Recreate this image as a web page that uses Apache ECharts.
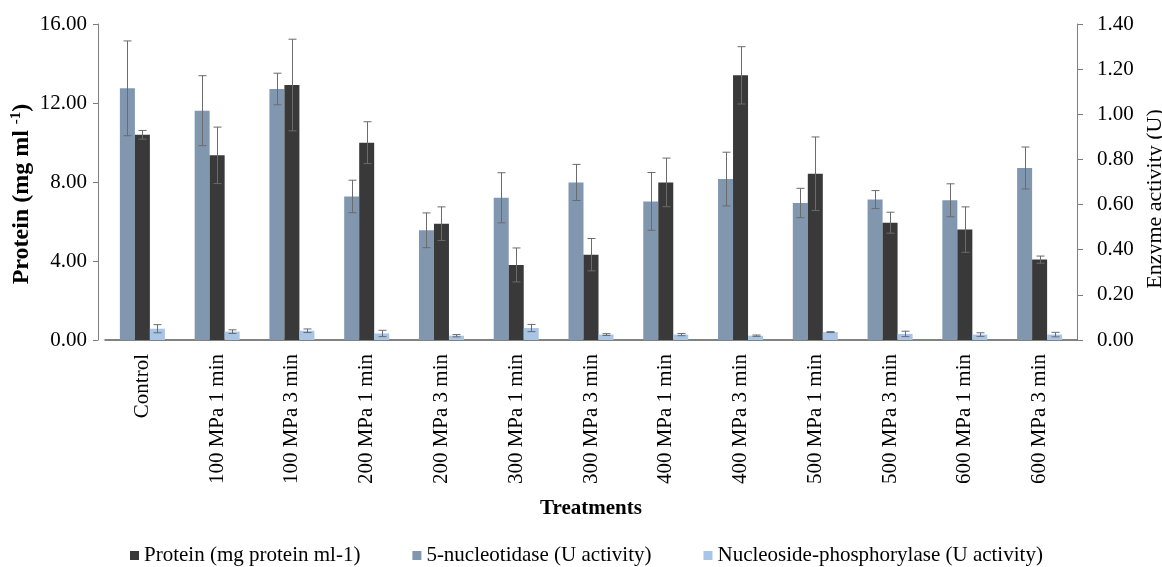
<!DOCTYPE html>
<html>
<head>
<meta charset="utf-8">
<script src="https://cdn.jsdelivr.net/npm/echarts@6/dist/echarts.min.js"></script>
<style>html,body{margin:0;padding:0;background:#fff;}#c{width:1162px;height:567px;}</style>
</head>
<body>
<div id="c"></div>
<script>
var categories = ['Control','100 MPa 1 min','100 MPa 3 min','200 MPa 1 min','200 MPa 3 min','300 MPa 1 min','300 MPa 3 min','400 MPa 1 min','400 MPa 3 min','500 MPa 1 min','500 MPa 3 min','600 MPa 1 min','600 MPa 3 min'];
var protein = [10.39, 9.35, 12.91, 9.99, 5.89, 3.80, 4.32, 7.98, 13.40, 8.42, 5.94, 5.59, 4.07];
var proteinErr = [0.22, 1.43, 2.32, 1.06, 0.85, 0.86, 0.82, 1.23, 1.45, 1.86, 0.53, 1.15, 0.18];
var nucleotidase = [1.115, 1.016, 1.112, 0.636, 0.486, 0.630, 0.698, 0.614, 0.713, 0.607, 0.622, 0.619, 0.762];
var nucleotidaseErr = [0.21, 0.155, 0.07, 0.072, 0.077, 0.111, 0.08, 0.128, 0.119, 0.065, 0.04, 0.073, 0.093];
var phosphorylase = [0.05, 0.037, 0.041, 0.029, 0.019, 0.053, 0.024, 0.024, 0.019, 0.035, 0.027, 0.024, 0.024];
var phosphorylaseErr = [0.018, 0.008, 0.008, 0.014, 0.005, 0.016, 0.004, 0.005, 0.003, 0.002, 0.012, 0.008, 0.01];
var leftTicks = {min: 0, max: 16, interval: 4};
var rightTicks = {min: 0, max: 1.4, interval: 0.2};
var names = ['Protein (mg protein ml-1)', '5-nucleotidase (U activity)', 'Nucleoside-phosphorylase (U activity)'];

var FONT = "'Liberation Serif', 'Times New Roman', serif";
var FS = 21;
var BAR_W = 15;

function errData(mean, err) {
  return mean.map(function (m, i) { return [i, m - err[i], m + err[i]]; });
}
function errSeries(mean, err, yIdx, shift) {
  return {
    type: 'custom',
    yAxisIndex: yIdx,
    z: 10,
    silent: true,
    data: errData(mean, err),
    encode: {x: 0, y: [1, 2]},
    renderItem: function (params, api) {
      var lo = api.coord([api.value(0), api.value(1)]);
      var hi = api.coord([api.value(0), api.value(2)]);
      var x = Math.round(lo[0] + shift) + 0.5;
      var cap = 4;
      var st = {stroke: '#6b6b6b', lineWidth: 1};
      return {
        type: 'group',
        children: [
          {type: 'line', shape: {x1: x, y1: hi[1], x2: x, y2: lo[1]}, style: st},
          {type: 'line', shape: {x1: x - cap, y1: hi[1], x2: x + cap, y2: hi[1]}, style: st},
          {type: 'line', shape: {x1: x - cap, y1: lo[1], x2: x + cap, y2: lo[1]}, style: st}
        ]
      };
    }
  };
}

var chart = echarts.init(document.getElementById('c'));
chart.setOption({
  animation: false,
  textStyle: {fontFamily: FONT, color: '#000'},
  grid: {left: 105, right: 85, top: 24, bottom: 227, containLabel: false, outerBoundsMode: 'none'},
  legend: {
    data: names,
    left: 125, top: 540,
    icon: 'rect', itemWidth: 9, itemHeight: 9, itemGap: 52,
    textStyle: {fontFamily: FONT, fontSize: FS, color: '#000'}
  },
  xAxis: {
    type: 'category',
    data: categories,
    axisLine: {lineStyle: {color: '#595959', width: 1.5}},
    axisTick: {show: false},
    axisLabel: {rotate: 90, margin: 14, fontFamily: FONT, fontSize: FS, color: '#000', interval: 0},
    name: 'Treatments',
    nameLocation: 'middle',
    nameGap: 158,
    nameTextStyle: {fontFamily: FONT, fontSize: FS, fontWeight: 'bold', color: '#000'}
  },
  yAxis: [
    {
      type: 'value',
      min: leftTicks.min, max: leftTicks.max, interval: leftTicks.interval,
      offset: 7,
      axisLine: {show: true, lineStyle: {color: '#7f7f7f'}},
      axisTick: {show: true, length: 5, lineStyle: {color: '#7f7f7f'}},
      splitLine: {show: false},
      axisLabel: {margin: 11, fontFamily: FONT, fontSize: FS, color: '#000', formatter: function (v) { return v.toFixed(2); }},
      name: 'Protein (mg ml {sup|-1})',
      nameLocation: 'middle',
      nameRotate: 90,
      nameGap: 64,
      nameMoveOverlap: false,
      nameTextStyle: {
        fontFamily: FONT, fontSize: 24, fontWeight: 'bold', color: '#000',
        padding: [0, 24, 0, 0],
        rich: {sup: {fontFamily: FONT, fontSize: 15, fontWeight: 'bold', verticalAlign: 'top', padding: [0, 0, 10, 0]}}
      }
    },
    {
      type: 'value',
      position: 'right',
      min: rightTicks.min, max: rightTicks.max, interval: rightTicks.interval,
      axisLine: {show: true, lineStyle: {color: '#7f7f7f'}},
      axisTick: {show: true, length: 6, lineStyle: {color: '#7f7f7f'}},
      splitLine: {show: false},
      axisLabel: {margin: 20, fontFamily: FONT, fontSize: FS, color: '#000', formatter: function (v) { return v.toFixed(2); }},
      name: 'Enzyme activity (U)',
      nameLocation: 'middle',
      nameRotate: 90,
      nameGap: 62,
      nameTextStyle: {fontFamily: FONT, fontSize: 22, color: '#000', padding: [0, 34, 0, 0]}
    }
  ],
  series: [
    {name: names[1], type: 'bar', yAxisIndex: 1, data: nucleotidase, barWidth: BAR_W, barGap: '0%', itemStyle: {color: '#8197b0'}},
    {name: names[0], type: 'bar', yAxisIndex: 0, data: protein, barWidth: BAR_W, barGap: '0%', itemStyle: {color: '#393939'}},
    {name: names[2], type: 'bar', yAxisIndex: 1, data: phosphorylase, barWidth: BAR_W, barGap: '0%', itemStyle: {color: '#a9c5e6'}},
    errSeries(nucleotidase, nucleotidaseErr, 1, -BAR_W),
    errSeries(protein, proteinErr, 0, 0),
    errSeries(phosphorylase, phosphorylaseErr, 1, BAR_W)
  ]
});
</script>
</body>
</html>
